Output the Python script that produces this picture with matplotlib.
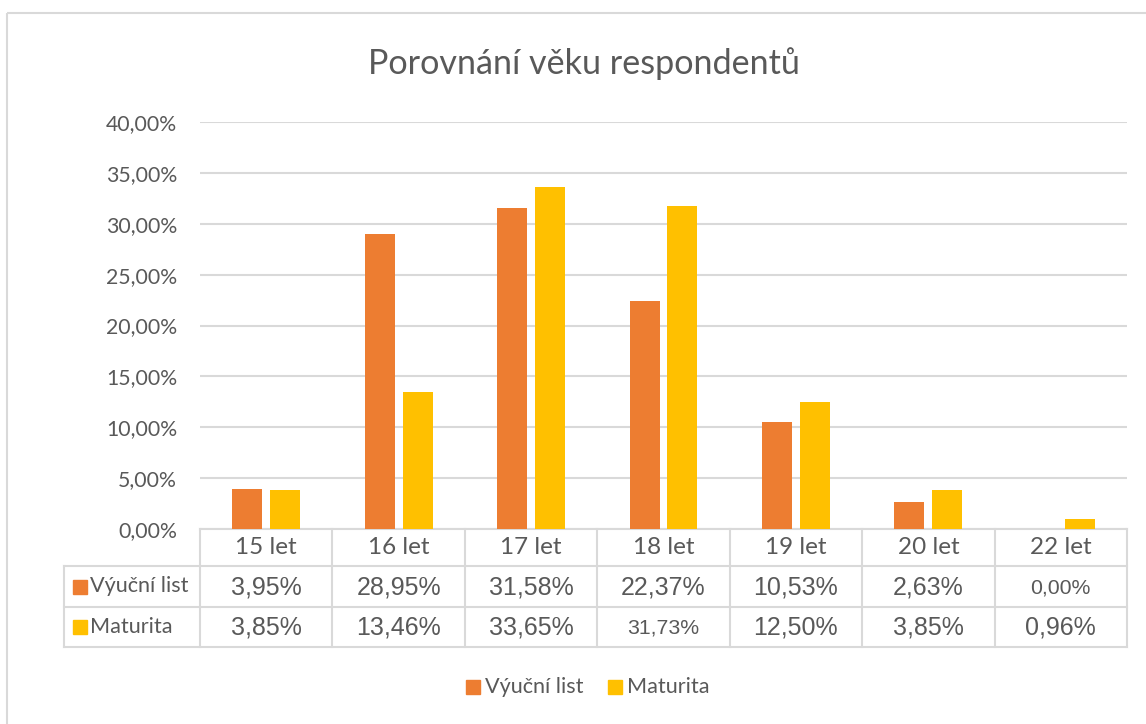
import matplotlib.pyplot as plt
from matplotlib.patches import Rectangle

# data
categories = ["15 let", "16 let", "17 let", "18 let", "19 let", "20 let", "22 let"]
vyucni_list = [3.95, 28.95, 31.58, 22.37, 10.53, 2.63, 0.00]
maturita = [3.85, 13.46, 33.65, 31.73, 12.50, 3.85, 0.96]
series_names = ["Výuční list", "Maturita"]
y_ticks = [0, 5, 10, 15, 20, 25, 30, 35, 40]

ORANGE = "#ED7D31"
YELLOW = "#FFC000"
GRID = "#D9D9D9"
TEXT = "#595959"
UI_FONT = ["Lato", "DejaVu Sans"]
VAL_FONT = ["Liberation Sans", "DejaVu Sans"]

W, H = 1146, 724
fig = plt.figure(figsize=(W / 100, H / 100), dpi=100)

# pixel overlay for frame, table, title, legend
ov = fig.add_axes([0, 0, 1, 1])
ov.set_xlim(0, W)
ov.set_ylim(H, 0)
ov.axis("off")

# chart frame (right and bottom run off the image)
ov.add_patch(Rectangle((7, 13), W + 20, H + 20, fill=False,
                       edgecolor=GRID, linewidth=1.5))

# plot area
x0, x1 = 200, 1127
y_zero, y_top = 529, 122
ax = fig.add_axes([x0 / W, (H - y_zero) / H, (x1 - x0) / W, (y_zero - y_top) / H])
ax.set_xlim(-0.5, len(categories) - 0.5)
ax.set_ylim(0, 40)
ax.patch.set_alpha(0)
for s in ax.spines.values():
    s.set_visible(False)
ax.set_yticks(y_ticks)
ax.set_yticklabels([f"{v:.2f}".replace(".", ",") + "%" for v in y_ticks],
                   fontsize=15.3, color=TEXT, family=UI_FONT)
ax.tick_params(axis="y", length=0, pad=16.5)
ax.set_xticks([])
ax.yaxis.grid(True, color=GRID, linewidth=1.5)
ax.set_axisbelow(True)

xs = list(range(len(categories)))
bw = 0.227
off = 0.143
ax.bar([x - off for x in xs], vyucni_list, width=bw, color=ORANGE, zorder=3)
ax.bar([x + off for x in xs], maturita, width=bw, color=YELLOW, zorder=3)

# title
ov.text(584, 64, "Porovnání věku respondentů", ha="center", va="center",
        fontsize=24.6, color=TEXT, family=UI_FONT)

# data table
col_w = (x1 - x0) / len(categories)
rows_y = [529, 566, 607, 647]
lx = 64
for y in rows_y[1:]:
    ov.plot([lx, x1], [y, y], color=GRID, lw=1.5)
ov.plot([x0, x1], [rows_y[0], rows_y[0]], color=GRID, lw=1.5)
ov.plot([lx, lx], [rows_y[1], rows_y[3]], color=GRID, lw=1.5)
for i in range(len(categories) + 1):
    xx = x0 + i * col_w
    ov.plot([xx, xx], [rows_y[0], rows_y[3]], color=GRID, lw=1.5)

for i, c in enumerate(categories):
    cx = x0 + (i + 0.5) * col_w
    ov.text(cx, (rows_y[0] + rows_y[1]) / 2, c, ha="center", va="center",
            fontsize=17.5, color=TEXT, family=UI_FONT)

small_cells = {(0, 6), (1, 3)}
for r, (vals, col) in enumerate([(vyucni_list, ORANGE), (maturita, YELLOW)]):
    cy = (rows_y[r + 1] + rows_y[r + 2]) / 2
    ov.add_patch(Rectangle((73, cy - 7), 14, 14, color=col))
    ov.text(90, cy, series_names[r], ha="left", va="center",
            fontsize=15.6, color=TEXT, family=UI_FONT)
    for i, v in enumerate(vals):
        cx = x0 + (i + 0.5) * col_w
        fs = 15.3 if (r, i) in small_cells else 18
        ov.text(cx, cy + 1, f"{v:.2f}".replace(".", ",") + "%", ha="center", va="center",
                fontsize=fs, color=TEXT, family=VAL_FONT)

# legend
ly = 687
ov.add_patch(Rectangle((466, ly - 7), 14, 14, color=ORANGE))
ov.text(485, ly, series_names[0], ha="left", va="center", fontsize=15.6,
        color=TEXT, family=UI_FONT)
ov.add_patch(Rectangle((608, ly - 7), 14, 14, color=YELLOW))
ov.text(627, ly, series_names[1], ha="left", va="center", fontsize=15.6,
        color=TEXT, family=UI_FONT)

fig.savefig("out.png", dpi=100)
